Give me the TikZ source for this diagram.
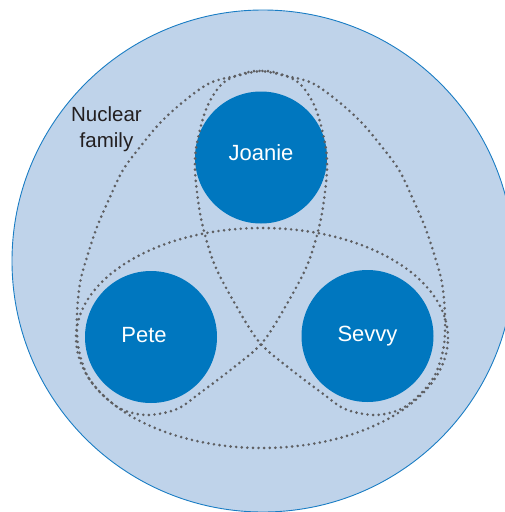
\documentclass[tikz,border=0pt]{standalone}
\usepackage{fontspec}
\setmainfont{Liberation Sans}
\definecolor{groundfill}{HTML}{BFD3EA}
\definecolor{groundline}{HTML}{1A7DC4}
\definecolor{personfill}{HTML}{0077BF}
\definecolor{dotgray}{HTML}{5E5F62}
\definecolor{labelink}{HTML}{231F20}
\begin{document}
\begin{tikzpicture}[x=1pt,y=-1pt,
  person/.style={circle, fill=personfill, draw=none, minimum size=132pt, inner sep=0pt},
  personname/.style={text=white, font=\fontsize{22}{26}\selectfont, anchor=base, inner sep=0pt},
  subsystem/.style={draw=dotgray, line width=2.9pt, line cap=round, dash pattern=on 0pt off 5.6pt},
]
\useasboundingbox (0,0) rectangle (505,512);
\clip (0,0) rectangle (505,512);

% the family as a whole
\filldraw[fill=groundfill, draw=groundline, line width=0.9pt] (263,261) circle [radius=251pt];

% family members
\node[person] (joanie) at (261,157.5) {};
\node[person] (pete)   at (151,337)   {};
\node[person] (sevvy)  at (367.5,336) {};
\node[personname] (joanieName) at (261,160.7) {Joanie};
\node[personname] (peteName)   at (144,342.3) {Pete};
\node[personname] (sevvyName)  at (367.5,341.7) {Sevvy};

% Joanie--Pete subsystem
\draw[subsystem] plot[smooth cycle, tension=0.55] coordinates {
  (261,71) (277,73) (299,83) (315,107) (325,143) (327,170) (323,207)
  (317,235) (306,268) (284,309) (262,343) (233,368) (200,393) (177,409)
  (148,415) (123,410) (106,398) (92,383) (84,368) (78,345) (77,315)
  (80,283) (87,257) (97,227) (110,197) (123,170) (140,147) (160,123)
  (183,102) (210,83) (240,75)};

% Joanie--Sevvy subsystem
\draw[subsystem] plot[smooth cycle, tension=0.55] coordinates {
  (261,71) (245,73) (223,83) (207,107) (197,143) (195,170) (199,207)
  (205,235) (216,268) (238,309) (260,343) (289,368) (322,393) (345,409)
  (374,415) (399,410) (416,398) (430,383) (438,368) (444,345) (445,315)
  (442,283) (435,257) (425,227) (412,197) (399,170) (382,147) (362,123)
  (339,102) (312,83) (282,75)};

% Pete--Sevvy subsystem
\draw[subsystem] (262,338) ellipse [x radius=186pt, y radius=110pt];

% caption of the whole group (base anchor sits on the last line)
\node[text=labelink, font=\fontsize{20.5}{26}\selectfont, align=center, anchor=base, inner sep=0pt]
  (nuclearLabel) at (106.5,147) {Nuclear\\family};
\end{tikzpicture}
\end{document}
